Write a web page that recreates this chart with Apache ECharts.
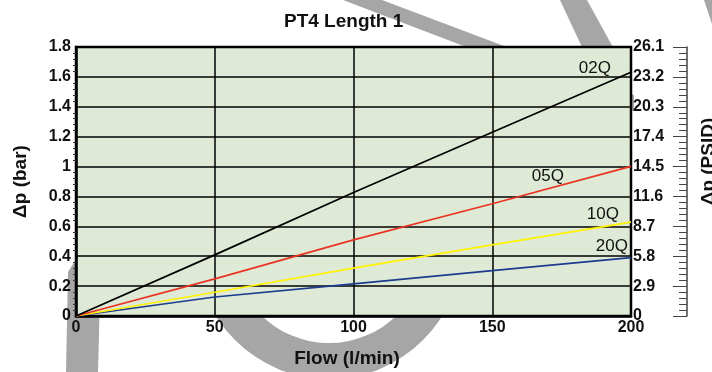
<!DOCTYPE html>
<html><head><meta charset="utf-8">
<script src="https://cdn.jsdelivr.net/npm/echarts@6/dist/echarts.min.js"></script>
<style>html,body{margin:0;padding:0;background:#fff}#c{width:712px;height:372px}</style>
</head><body><div id="c"></div>
<script>
// ---- data ----
const flow = [0, 50, 100, 150, 200];            // l/min
const q02 = [0, 0.409, 0.827, 1.229, 1.631];    // bar
const q05 = [0, 0.248, 0.509, 0.751, 1.001];
const q10 = [0, 0.159, 0.320, 0.476, 0.628];
const q20 = [0, 0.127, 0.215, 0.304, 0.391];
const seriesNames = ['02Q', '05Q', '10Q', '20Q'];
const barAxis = { min: 0, max: 1.8, step: 0.2 };
const psiAxis = { min: 0, max: 26.1, step: 2.9 };
const xAxisRange = { min: 0, max: 200, step: 50 };

// ---- styles ----
const FONT = '"Liberation Sans", Arial, Helvetica, sans-serif';
const colors = ['#000000', '#ea3323', '#fff200', '#1b3c8f'];
const labelOffsets = [[-20, -4], [-67, 10], [-12, -8], [-3, -11]];
const GRAY = '#a6a6a6';

const values = [q02, q05, q10, q20];
const chart = echarts.init(document.getElementById('c'), null, { renderer: 'canvas' });

const series = values.map((v, i) => ({
  name: seriesNames[i],
  type: 'line',
  data: flow.map((f, j) => [f, v[j]]),
  showSymbol: false,
  symbol: 'none',
  lineStyle: { color: colors[i], width: 1.7 },
  itemStyle: { color: colors[i] },
  z: 3 + (3 - i),
  animation: false
}));

const watermark = [
  { type: 'polygon', z: -10, shape: { points: [[343, 0], [382, 0], [634, 95], [634, 111]] }, style: { fill: GRAY } },
  { type: 'polygon', z: -10, shape: { points: [[560, 0], [587, 0], [620, 60], [588, 60]] }, style: { fill: GRAY } },
  { type: 'polygon', z: -10, shape: { points: [[704, 0], [712, 0], [712, 24]] }, style: { fill: GRAY } },
  { type: 'polygon', z: -10, shape: { points: [[68, 272], [78, 256], [101, 256], [98, 372], [66, 372]] }, style: { fill: GRAY } },
  { type: 'ring', z: -10, shape: { cx: 329, cy: 246, r: 133, r0: 97 }, style: { fill: GRAY } }
];

const option = {
  backgroundColor: '#ffffff',
  animation: false,
  title: {
    text: 'PT4 Length 1',
    left: 284, top: 12, padding: 0,
    textStyle: { fontFamily: FONT, fontSize: 19, fontWeight: 'bold', color: '#111' }
  },
  grid: {
    left: 76, top: 47, width: 555, height: 269,
    outerBoundsMode: 'none',
    show: true, backgroundColor: '#dfead6', borderColor: '#000', borderWidth: 2.5,
    containLabel: false
  },
  xAxis: {
    type: 'value', min: xAxisRange.min, max: xAxisRange.max, interval: xAxisRange.step,
    name: 'Flow (l/min)', nameLocation: 'middle', nameGap: 33,
    nameTextStyle: { fontFamily: FONT, fontSize: 19, fontWeight: 'bold', color: '#111', padding: [0, 13, 0, 0] },
    axisLine: { show: true, lineStyle: { color: '#000', width: 2.5 } },
    axisTick: { show: false },
    axisLabel: { fontFamily: FONT, fontSize: 16, fontWeight: 'bold', color: '#111', margin: 4 },
    splitLine: { show: true, lineStyle: { color: '#000', width: 1.5 } }
  },
  yAxis: [{
    type: 'value', min: barAxis.min, max: barAxis.max, interval: barAxis.step,
    name: 'Δp (bar)', nameLocation: 'middle', nameGap: 46, nameRotate: 90, nameMoveOverlap: false,
    nameTextStyle: { fontFamily: FONT, fontSize: 19, fontWeight: 'bold', color: '#111' },
    axisLine: { show: true, lineStyle: { color: '#000', width: 2.5 } },
    axisTick: { show: false },
    minorTick: { show: true, splitNumber: 5, length: 3, lineStyle: { color: '#333', width: 1 } },
    axisLabel: { fontFamily: FONT, fontSize: 16, fontWeight: 'bold', color: '#111', margin: 5 },
    splitLine: { show: true, lineStyle: { color: '#000', width: 1.5 } }
  }, {
    type: 'value', position: 'right', offset: 56,
    min: psiAxis.min, max: psiAxis.max, interval: psiAxis.step,
    name: 'Δp (PSID)', nameLocation: 'middle', nameGap: 12, nameRotate: 90, nameMoveOverlap: false,
    nameTextStyle: { fontFamily: FONT, fontSize: 19, fontWeight: 'bold', color: '#111', padding: [0, 0, 0, 40] },
    axisLine: { show: true, lineStyle: { color: '#444', width: 1.5 } },
    axisTick: { show: true, inside: true, length: 14, lineStyle: { color: '#444', width: 1 } },
    minorTick: { show: true, splitNumber: 5, length: 8, lineStyle: { color: '#444', width: 1 } },
    axisLabel: {
      inside: true, margin: 54, align: 'left',
      fontFamily: FONT, fontSize: 16, fontWeight: 'bold', color: '#111',
      formatter: v => (v === 0 ? '0' : v.toFixed(1))
    },
    splitLine: { show: false }
  }],
  series: series,
  graphic: watermark
};
chart.setOption(option);

// curve labels placed relative to each series' last point (via the chart's own scales)
const labelGraphics = values.map((v, i) => {
  const last = v.length - 1;
  const p = chart.convertToPixel({ gridIndex: 0 }, [flow[last], v[last]]);
  return {
    type: 'text', z: 20,
    x: p[0] + labelOffsets[i][0], y: p[1] + labelOffsets[i][1],
    style: { text: seriesNames[i], fill: '#111', font: '17px ' + FONT, align: 'right', verticalAlign: 'middle' }
  };
});
chart.setOption({ graphic: watermark.concat(labelGraphics) });
</script>
</body></html>
